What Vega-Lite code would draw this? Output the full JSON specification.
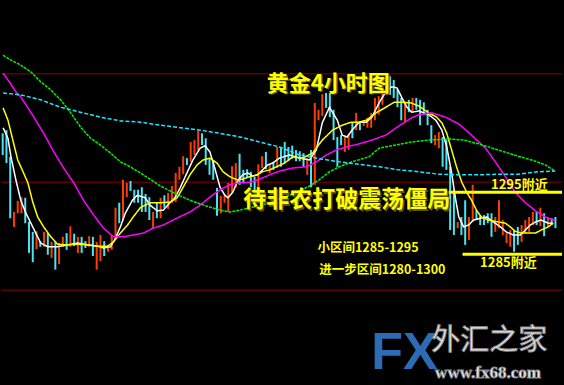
{
  "$schema": "https://vega.github.io/schema/vega-lite/v6.json",
  "width": 564,
  "height": 385,
  "autosize": {"type": "fit", "contains": "padding"},
  "padding": 0,
  "background": "#000000",
  "config": {"view": {"stroke": null}, "axis": {"disable": true}},
  "datasets": {
    "grid": [{"p": 1314.1}, {"p": 1296.6}, {"p": 1279.2}],
    "levels": [{"t0": 118.6, "t1": 148.75, "p": 1295}, {"t0": 122.3, "t1": 148.75, "p": 1285}],
    "candles": [
      {"t":0,"h":1304.5,"l":1301.0,"d":"down"},{"t":1,"h":1305.0,"l":1299.7,"d":"down"},{"t":2,"h":1300.7,"l":1290.8,"d":"down"},{"t":3,"h":1291.8,"l":1289.4,"d":"up"},{"t":4,"h":1293.6,"l":1291.6,"d":"up"},{"t":5,"h":1294.2,"l":1291.6,"d":"up"},{"t":6,"h":1294.1,"l":1290.0,"d":"down"},{"t":7,"h":1290.2,"l":1285.2,"d":"down"},{"t":8,"h":1288.6,"l":1283.7,"d":"down"},{"t":9,"h":1288.7,"l":1285.8,"d":"up"},
      {"t":10,"h":1287.1,"l":1286.2,"d":"down"},{"t":11,"h":1288.6,"l":1286.2,"d":"up"},{"t":12,"h":1288.4,"l":1284.9,"d":"down"},{"t":13,"h":1287.0,"l":1284.4,"d":"up"},{"t":14,"h":1287.0,"l":1282.5,"d":"down"},{"t":15,"h":1286.8,"l":1283.4,"d":"up"},{"t":16,"h":1287.8,"l":1286.2,"d":"up"},{"t":17,"h":1288.4,"l":1285.7,"d":"down"},{"t":18,"h":1289.5,"l":1286.2,"d":"up"},{"t":19,"h":1288.3,"l":1286.3,"d":"down"},
      {"t":20,"h":1287.8,"l":1285.2,"d":"up"},{"t":21,"h":1287.8,"l":1285.2,"d":"down"},{"t":22,"h":1287.1,"l":1286.0,"d":"down"},{"t":23,"h":1287.9,"l":1286.2,"d":"up"},{"t":24,"h":1287.8,"l":1284.7,"d":"down"},{"t":25,"h":1287.0,"l":1282.5,"d":"up"},{"t":26,"h":1288.1,"l":1283.9,"d":"up"},{"t":27,"h":1287.1,"l":1284.7,"d":"down"},{"t":28,"h":1286.5,"l":1285.4,"d":"up"},{"t":29,"h":1288.1,"l":1285.7,"d":"up"},
      {"t":30,"h":1292.5,"l":1287.6,"d":"up"},{"t":31,"h":1293.3,"l":1290.0,"d":"down"},{"t":32,"h":1297.0,"l":1290.4,"d":"up"},{"t":33,"h":1296.5,"l":1294.2,"d":"up"},{"t":34,"h":1296.8,"l":1295.2,"d":"down"},{"t":35,"h":1295.4,"l":1293.3,"d":"down"},{"t":36,"h":1295.4,"l":1293.3,"d":"down"},
      {"t":37,"h":1295.8,"l":1291.8,"d":"down"},{"t":38,"h":1294.7,"l":1291.8,"d":"down"},{"t":39,"h":1294.2,"l":1290.5,"d":"down"},{"t":40,"h":1291.8,"l":1289.2,"d":"up"},{"t":41,"h":1293.3,"l":1290.8,"d":"down"},{"t":42,"h":1294.1,"l":1290.8,"d":"up"},{"t":43,"h":1294.5,"l":1292.5,"d":"down"},{"t":44,"h":1294.9,"l":1292.3,"d":"up"},{"t":45,"h":1296.0,"l":1293.3,"d":"up"},{"t":46,"h":1298.1,"l":1293.4,"d":"up"},
      {"t":47,"h":1299.1,"l":1297.0,"d":"up"},{"t":48,"h":1300.8,"l":1297.9,"d":"up"},{"t":49,"h":1300.5,"l":1299.4,"d":"down"},{"t":50,"h":1303.1,"l":1299.9,"d":"up"},{"t":51,"h":1303.4,"l":1301.0,"d":"up"},{"t":52,"h":1304.9,"l":1301.8,"d":"up"},{"t":53,"h":1304.5,"l":1302.6,"d":"down"},{"t":54,"h":1303.7,"l":1299.4,"d":"down"},{"t":55,"h":1300.5,"l":1297.8,"d":"down"},{"t":56,"h":1300.2,"l":1297.0,"d":"down"},
      {"t":57,"h":1295.7,"l":1291.2,"d":"down"},{"t":58,"h":1294.4,"l":1291.6,"d":"up"},{"t":59,"h":1294.7,"l":1293.3,"d":"up"},{"t":60,"h":1296.5,"l":1291.8,"d":"up"},{"t":61,"h":1299.2,"l":1294.9,"d":"up"},{"t":62,"h":1299.7,"l":1295.8,"d":"up"},{"t":63,"h":1301.2,"l":1296.2,"d":"down"},{"t":64,"h":1298.6,"l":1296.6,"d":"down"},{"t":65,"h":1298.7,"l":1297.3,"d":"down"},{"t":66,"h":1298.3,"l":1295.8,"d":"down"},
      {"t":67,"h":1297.5,"l":1295.2,"d":"down"},{"t":68,"h":1299.5,"l":1295.4,"d":"up"},{"t":69,"h":1300.8,"l":1298.9,"d":"up"},{"t":70,"h":1301.5,"l":1298.7,"d":"down"},{"t":71,"h":1299.5,"l":1298.1,"d":"up"},{"t":72,"h":1299.9,"l":1298.6,"d":"down"},{"t":73,"h":1302.3,"l":1298.9,"d":"up"},
      {"t":74,"h":1302.3,"l":1299.1,"d":"down"},{"t":75,"h":1303.1,"l":1299.7,"d":"down"},{"t":76,"h":1302.3,"l":1300.0,"d":"down"},{"t":77,"h":1302.5,"l":1300.4,"d":"down"},{"t":78,"h":1301.8,"l":1300.0,"d":"down"},{"t":79,"h":1301.6,"l":1300.0,"d":"down"},{"t":80,"h":1301.3,"l":1299.1,"d":"down"},{"t":81,"h":1300.5,"l":1297.8,"d":"up"},{"t":82,"h":1301.8,"l":1295.8,"d":"down"},{"t":83,"h":1309.4,"l":1296.2,"d":"up"},
      {"t":84,"h":1308.3,"l":1306.6,"d":"up"},{"t":85,"h":1310.8,"l":1307.3,"d":"up"},{"t":86,"h":1311.0,"l":1308.6,"d":"down"},{"t":87,"h":1311.0,"l":1307.1,"d":"down"},{"t":88,"h":1308.3,"l":1303.4,"d":"down"},{"t":89,"h":1303.9,"l":1299.1,"d":"down"},{"t":90,"h":1304.2,"l":1302.6,"d":"down"},{"t":91,"h":1303.9,"l":1301.5,"d":"up"},{"t":92,"h":1304.2,"l":1301.8,"d":"up"},{"t":93,"h":1306.3,"l":1303.7,"d":"down"},
      {"t":94,"h":1307.8,"l":1305.0,"d":"up"},{"t":95,"h":1306.3,"l":1305.0,"d":"down"},{"t":96,"h":1306.6,"l":1305.7,"d":"up"},{"t":97,"h":1307.0,"l":1305.4,"d":"up"},{"t":98,"h":1307.8,"l":1305.4,"d":"up"},{"t":99,"h":1310.2,"l":1306.6,"d":"up"},{"t":100,"h":1310.5,"l":1307.5,"d":"up"},{"t":101,"h":1313.6,"l":1309.1,"d":"up"},{"t":102,"h":1314.2,"l":1310.7,"d":"up"},{"t":103,"h":1313.7,"l":1310.7,"d":"down"},
      {"t":104,"h":1313.1,"l":1310.2,"d":"down"},{"t":105,"h":1311.6,"l":1308.7,"d":"down"},{"t":106,"h":1310.2,"l":1306.6,"d":"down"},{"t":107,"h":1309.5,"l":1306.3,"d":"up"},{"t":108,"h":1309.9,"l":1307.9,"d":"down"},{"t":109,"h":1310.2,"l":1307.9,"d":"up"},{"t":110,"h":1310.2,"l":1308.3,"d":"down"},
      {"t":111,"h":1309.9,"l":1305.8,"d":"down"},{"t":112,"h":1309.5,"l":1307.5,"d":"down"},{"t":113,"h":1308.3,"l":1305.8,"d":"down"},{"t":114,"h":1305.8,"l":1302.9,"d":"down"},{"t":115,"h":1304.2,"l":1302.6,"d":"up"},{"t":116,"h":1304.7,"l":1302.1,"d":"up"},{"t":117,"h":1303.9,"l":1299.1,"d":"down"},{"t":118,"h":1303.4,"l":1298.6,"d":"down"},{"t":119,"h":1299.1,"l":1288.9,"d":"down"},{"t":120,"h":1295.4,"l":1288.1,"d":"down"},
      {"t":121,"h":1290.2,"l":1289.2,"d":"up"},{"t":122,"h":1291.0,"l":1288.1,"d":"down"},{"t":123,"h":1293.7,"l":1286.5,"d":"down"},{"t":124,"h":1291.0,"l":1287.3,"d":"up"},{"t":125,"h":1296.2,"l":1290.2,"d":"up"},{"t":126,"h":1292.1,"l":1290.5,"d":"down"},{"t":127,"h":1291.3,"l":1289.7,"d":"down"},{"t":128,"h":1291.3,"l":1289.7,"d":"down"},{"t":129,"h":1291.6,"l":1290.0,"d":"down"},{"t":130,"h":1291.6,"l":1287.8,"d":"down"},
      {"t":131,"h":1291.0,"l":1288.6,"d":"up"},{"t":132,"h":1293.7,"l":1289.2,"d":"up"},{"t":133,"h":1290.5,"l":1288.1,"d":"up"},{"t":134,"h":1288.4,"l":1286.8,"d":"up"},{"t":135,"h":1288.9,"l":1286.2,"d":"up"},{"t":136,"h":1288.9,"l":1285.4,"d":"down"},{"t":137,"h":1289.4,"l":1286.5,"d":"down"},{"t":138,"h":1289.7,"l":1287.0,"d":"up"},{"t":139,"h":1290.5,"l":1288.4,"d":"up"},{"t":140,"h":1291.0,"l":1288.6,"d":"up"},
      {"t":141,"h":1291.8,"l":1289.7,"d":"up"},{"t":142,"h":1291.8,"l":1289.7,"d":"down"},{"t":143,"h":1292.5,"l":1289.5,"d":"up"},{"t":144,"h":1291.6,"l":1287.9,"d":"down"},{"t":145,"h":1291.0,"l":1289.4,"d":"up"},{"t":146,"h":1290.8,"l":1289.7,"d":"down"},{"t":147,"h":1291.0,"l":1289.2,"d":"down"}
    ],
    "ma": [
      {"t":0.1,"m":"MA5","v":1305.4},{"t":1.4,"m":"MA5","v":1303.7},{"t":2.2,"m":"MA5","v":1300.7},{"t":3.5,"m":"MA5","v":1297.0},{"t":4.8,"m":"MA5","v":1293.7},{"t":6.2,"m":"MA5","v":1291.6},{"t":7.5,"m":"MA5","v":1290.0},{"t":8.8,"m":"MA5","v":1288.4},{"t":10.1,"m":"MA5","v":1286.8},{"t":12.0,"m":"MA5","v":1286.2},{"t":14.6,"m":"MA5","v":1286.2},{"t":17.3,"m":"MA5","v":1286.5},{"t":19.9,"m":"MA5","v":1286.8},{"t":22.6,"m":"MA5","v":1286.5},{"t":25.2,"m":"MA5","v":1286.3},{"t":26.8,"m":"MA5","v":1286.0},{"t":28.7,"m":"MA5","v":1286.2},{"t":30.0,"m":"MA5","v":1287.6},{"t":31.3,"m":"MA5","v":1289.4},{"t":32.6,"m":"MA5","v":1291.6},{"t":34.5,"m":"MA5","v":1293.7},{"t":35.8,"m":"MA5","v":1294.5},{"t":37.9,"m":"MA5","v":1294.1},{"t":39.2,"m":"MA5","v":1292.9},{"t":41.1,"m":"MA5","v":1292.0},{"t":42.7,"m":"MA5","v":1292.1},{"t":44.5,"m":"MA5","v":1293.3},{"t":45.9,"m":"MA5","v":1294.2},{"t":47.2,"m":"MA5","v":1295.7},{"t":49.0,"m":"MA5","v":1298.1},{"t":50.6,"m":"MA5","v":1300.2},{"t":52.5,"m":"MA5","v":1302.1},{"t":53.8,"m":"MA5","v":1302.5},{"t":55.1,"m":"MA5","v":1301.5},{"t":56.4,"m":"MA5","v":1298.9},{"t":57.8,"m":"MA5","v":1295.8},{"t":59.1,"m":"MA5","v":1294.5},{"t":59.9,"m":"MA5","v":1294.1},{"t":61.2,"m":"MA5","v":1295.0},{"t":62.5,"m":"MA5","v":1296.8},{"t":63.8,"m":"MA5","v":1297.8},{"t":65.2,"m":"MA5","v":1298.1},{"t":66.5,"m":"MA5","v":1297.6},{"t":67.8,"m":"MA5","v":1297.8},{"t":69.1,"m":"MA5","v":1298.6},{"t":70.5,"m":"MA5","v":1299.4},{"t":71.8,"m":"MA5","v":1299.7},{"t":73.6,"m":"MA5","v":1300.5},{"t":76.3,"m":"MA5","v":1301.0},{"t":78.9,"m":"MA5","v":1300.5},{"t":81.6,"m":"MA5","v":1300.2},{"t":83.4,"m":"MA5","v":1301.8},{"t":85.0,"m":"MA5","v":1306.2},{"t":86.9,"m":"MA5","v":1308.7},{"t":89.0,"m":"MA5","v":1306.6},{"t":90.3,"m":"MA5","v":1304.2},{"t":91.6,"m":"MA5","v":1303.9},{"t":92.9,"m":"MA5","v":1305.0},{"t":94.8,"m":"MA5","v":1306.3},{"t":96.7,"m":"MA5","v":1306.3},{"t":98.2,"m":"MA5","v":1307.1},{"t":100.1,"m":"MA5","v":1309.4},{"t":101.9,"m":"MA5","v":1311.2},{"t":103.5,"m":"MA5","v":1312.0},{"t":104.9,"m":"MA5","v":1311.8},{"t":106.2,"m":"MA5","v":1310.2},{"t":107.5,"m":"MA5","v":1308.7},{"t":108.8,"m":"MA5","v":1307.9},{"t":110.7,"m":"MA5","v":1308.1},{"t":113.3,"m":"MA5","v":1307.5},{"t":115.2,"m":"MA5","v":1306.6},{"t":116.8,"m":"MA5","v":1305.0},{"t":118.1,"m":"MA5","v":1302.3},{"t":119.4,"m":"MA5","v":1298.1},{"t":120.5,"m":"MA5","v":1293.7},{"t":121.3,"m":"MA5","v":1291.0},{"t":122.6,"m":"MA5","v":1289.4},{"t":123.9,"m":"MA5","v":1289.7},{"t":125.2,"m":"MA5","v":1290.5},{"t":127.1,"m":"MA5","v":1290.8},{"t":128.7,"m":"MA5","v":1291.0},{"t":130.5,"m":"MA5","v":1290.2},{"t":132.4,"m":"MA5","v":1289.4},{"t":133.9,"m":"MA5","v":1288.6},{"t":135.8,"m":"MA5","v":1288.1},{"t":137.7,"m":"MA5","v":1288.1},{"t":139.0,"m":"MA5","v":1288.9},{"t":140.3,"m":"MA5","v":1289.7},{"t":141.7,"m":"MA5","v":1290.2},{"t":143.2,"m":"MA5","v":1290.5},{"t":145.1,"m":"MA5","v":1290.0},{"t":146.4,"m":"MA5","v":1290.0},
      {"t":0.1,"m":"MA10","v":1308.6},{"t":1.4,"m":"MA10","v":1306.6},{"t":2.7,"m":"MA10","v":1303.4},{"t":4.0,"m":"MA10","v":1300.2},{"t":5.4,"m":"MA10","v":1298.3},{"t":6.7,"m":"MA10","v":1296.5},{"t":8.0,"m":"MA10","v":1293.4},{"t":9.3,"m":"MA10","v":1291.0},{"t":10.9,"m":"MA10","v":1289.4},{"t":12.8,"m":"MA10","v":1287.8},{"t":14.6,"m":"MA10","v":1286.6},{"t":17.3,"m":"MA10","v":1286.5},{"t":19.9,"m":"MA10","v":1286.6},{"t":22.6,"m":"MA10","v":1286.5},{"t":25.2,"m":"MA10","v":1286.3},{"t":27.9,"m":"MA10","v":1286.3},{"t":29.5,"m":"MA10","v":1287.0},{"t":31.3,"m":"MA10","v":1288.4},{"t":33.2,"m":"MA10","v":1289.7},{"t":34.7,"m":"MA10","v":1291.0},{"t":36.6,"m":"MA10","v":1292.5},{"t":39.2,"m":"MA10","v":1293.3},{"t":41.9,"m":"MA10","v":1293.3},{"t":44.5,"m":"MA10","v":1293.4},{"t":46.4,"m":"MA10","v":1294.1},{"t":48.0,"m":"MA10","v":1295.8},{"t":49.8,"m":"MA10","v":1297.8},{"t":51.7,"m":"MA10","v":1299.4},{"t":53.3,"m":"MA10","v":1300.2},{"t":55.1,"m":"MA10","v":1300.5},{"t":57.0,"m":"MA10","v":1299.7},{"t":58.6,"m":"MA10","v":1298.3},{"t":60.4,"m":"MA10","v":1297.5},{"t":62.3,"m":"MA10","v":1297.0},{"t":63.8,"m":"MA10","v":1297.1},{"t":65.7,"m":"MA10","v":1297.5},{"t":67.6,"m":"MA10","v":1297.8},{"t":69.1,"m":"MA10","v":1298.3},{"t":71.0,"m":"MA10","v":1298.6},{"t":72.8,"m":"MA10","v":1299.1},{"t":75.0,"m":"MA10","v":1299.7},{"t":77.1,"m":"MA10","v":1300.7},{"t":79.7,"m":"MA10","v":1300.5},{"t":82.4,"m":"MA10","v":1301.3},{"t":85.0,"m":"MA10","v":1303.4},{"t":87.7,"m":"MA10","v":1305.0},{"t":90.3,"m":"MA10","v":1305.8},{"t":92.7,"m":"MA10","v":1306.3},{"t":94.8,"m":"MA10","v":1306.3},{"t":96.7,"m":"MA10","v":1306.6},{"t":99.3,"m":"MA10","v":1307.8},{"t":101.9,"m":"MA10","v":1308.7},{"t":104.1,"m":"MA10","v":1309.5},{"t":106.2,"m":"MA10","v":1309.5},{"t":108.6,"m":"MA10","v":1309.4},{"t":110.7,"m":"MA10","v":1308.9},{"t":113.3,"m":"MA10","v":1307.8},{"t":115.4,"m":"MA10","v":1307.1},{"t":116.8,"m":"MA10","v":1306.2},{"t":118.1,"m":"MA10","v":1304.5},{"t":119.4,"m":"MA10","v":1301.8},{"t":120.7,"m":"MA10","v":1299.1},{"t":122.1,"m":"MA10","v":1296.6},{"t":123.4,"m":"MA10","v":1295.0},{"t":124.7,"m":"MA10","v":1293.7},{"t":126.0,"m":"MA10","v":1292.1},{"t":127.3,"m":"MA10","v":1291.0},{"t":129.2,"m":"MA10","v":1290.5},{"t":131.8,"m":"MA10","v":1290.2},{"t":133.7,"m":"MA10","v":1290.0},{"t":135.0,"m":"MA10","v":1289.4},{"t":136.3,"m":"MA10","v":1288.7},{"t":137.9,"m":"MA10","v":1288.4},{"t":139.8,"m":"MA10","v":1288.4},{"t":141.7,"m":"MA10","v":1288.4},{"t":143.2,"m":"MA10","v":1288.9},{"t":145.1,"m":"MA10","v":1289.4},{"t":146.4,"m":"MA10","v":1290.0},
      {"t":0.1,"m":"MA30","v":1314.2},{"t":1.4,"m":"MA30","v":1313.1},{"t":3.5,"m":"MA30","v":1311.2},{"t":4.8,"m":"MA30","v":1310.4},{"t":8.3,"m":"MA30","v":1307.1},{"t":10.9,"m":"MA30","v":1304.5},{"t":13.6,"m":"MA30","v":1301.5},{"t":16.2,"m":"MA30","v":1298.9},{"t":18.9,"m":"MA30","v":1296.5},{"t":21.5,"m":"MA30","v":1293.7},{"t":24.2,"m":"MA30","v":1291.3},{"t":26.8,"m":"MA30","v":1289.2},{"t":29.5,"m":"MA30","v":1287.8},{"t":32.1,"m":"MA30","v":1287.8},{"t":34.7,"m":"MA30","v":1288.1},{"t":37.4,"m":"MA30","v":1288.4},{"t":40.0,"m":"MA30","v":1289.2},{"t":42.7,"m":"MA30","v":1289.7},{"t":45.3,"m":"MA30","v":1290.5},{"t":48.0,"m":"MA30","v":1291.3},{"t":49.8,"m":"MA30","v":1291.8},{"t":52.5,"m":"MA30","v":1292.9},{"t":55.1,"m":"MA30","v":1294.2},{"t":57.8,"m":"MA30","v":1295.4},{"t":60.4,"m":"MA30","v":1296.2},{"t":63.1,"m":"MA30","v":1296.5},{"t":65.7,"m":"MA30","v":1296.6},{"t":68.3,"m":"MA30","v":1297.1},{"t":71.0,"m":"MA30","v":1297.8},{"t":73.6,"m":"MA30","v":1298.4},{"t":77.1,"m":"MA30","v":1298.9},{"t":80.8,"m":"MA30","v":1299.1},{"t":83.4,"m":"MA30","v":1299.9},{"t":86.1,"m":"MA30","v":1301.0},{"t":88.7,"m":"MA30","v":1301.8},{"t":91.4,"m":"MA30","v":1302.3},{"t":94.8,"m":"MA30","v":1302.8},{"t":98.2,"m":"MA30","v":1303.4},{"t":101.9,"m":"MA30","v":1304.2},{"t":105.4,"m":"MA30","v":1305.7},{"t":108.8,"m":"MA30","v":1307.0},{"t":110.7,"m":"MA30","v":1307.5},{"t":114.1,"m":"MA30","v":1307.8},{"t":117.8,"m":"MA30","v":1307.1},{"t":121.3,"m":"MA30","v":1306.0},{"t":124.7,"m":"MA30","v":1304.2},{"t":128.4,"m":"MA30","v":1302.1},{"t":131.0,"m":"MA30","v":1299.9},{"t":133.7,"m":"MA30","v":1297.5},{"t":136.3,"m":"MA30","v":1295.0},{"t":139.0,"m":"MA30","v":1293.3},{"t":141.7,"m":"MA30","v":1292.0},{"t":144.3,"m":"MA30","v":1291.0},{"t":146.9,"m":"MA30","v":1290.4},
      {"t":0.1,"m":"MA60","v":1317.1},{"t":2.2,"m":"MA60","v":1316.3},{"t":4.8,"m":"MA60","v":1315.5},{"t":7.5,"m":"MA60","v":1314.4},{"t":10.1,"m":"MA60","v":1312.8},{"t":12.8,"m":"MA60","v":1311.5},{"t":15.4,"m":"MA60","v":1309.9},{"t":18.1,"m":"MA60","v":1307.8},{"t":20.7,"m":"MA60","v":1305.5},{"t":23.4,"m":"MA60","v":1303.7},{"t":26.0,"m":"MA60","v":1302.6},{"t":28.7,"m":"MA60","v":1301.3},{"t":31.3,"m":"MA60","v":1299.9},{"t":33.9,"m":"MA60","v":1299.1},{"t":36.6,"m":"MA60","v":1298.1},{"t":39.2,"m":"MA60","v":1297.1},{"t":41.9,"m":"MA60","v":1296.0},{"t":44.5,"m":"MA60","v":1295.2},{"t":47.2,"m":"MA60","v":1294.4},{"t":49.8,"m":"MA60","v":1293.7},{"t":52.5,"m":"MA60","v":1293.1},{"t":55.1,"m":"MA60","v":1292.6},{"t":57.8,"m":"MA60","v":1292.1},{"t":60.4,"m":"MA60","v":1291.8},{"t":63.1,"m":"MA60","v":1292.1},{"t":65.7,"m":"MA60","v":1292.5},{"t":68.3,"m":"MA60","v":1292.8},{"t":71.0,"m":"MA60","v":1293.3},{"t":73.6,"m":"MA60","v":1293.9},{"t":76.3,"m":"MA60","v":1294.5},{"t":78.9,"m":"MA60","v":1295.2},{"t":81.6,"m":"MA60","v":1296.0},{"t":84.2,"m":"MA60","v":1297.0},{"t":86.9,"m":"MA60","v":1298.3},{"t":89.5,"m":"MA60","v":1299.1},{"t":92.9,"m":"MA60","v":1299.9},{"t":97.4,"m":"MA60","v":1300.7},{"t":100.1,"m":"MA60","v":1302.1},{"t":103.5,"m":"MA60","v":1302.5},{"t":108.8,"m":"MA60","v":1303.1},{"t":113.3,"m":"MA60","v":1303.4},{"t":118.6,"m":"MA60","v":1303.6},{"t":122.6,"m":"MA60","v":1303.4},{"t":126.6,"m":"MA60","v":1302.8},{"t":131.8,"m":"MA60","v":1301.8},{"t":137.1,"m":"MA60","v":1300.8},{"t":141.7,"m":"MA60","v":1300.0},{"t":144.3,"m":"MA60","v":1299.4},{"t":146.9,"m":"MA60","v":1298.4},
      {"t":0.1,"m":"MA120","v":1311.0},{"t":4.8,"m":"MA120","v":1310.7},{"t":10.1,"m":"MA120","v":1309.9},{"t":15.4,"m":"MA120","v":1308.7},{"t":20.7,"m":"MA120","v":1307.9},{"t":26.0,"m":"MA120","v":1307.1},{"t":31.3,"m":"MA120","v":1306.5},{"t":36.6,"m":"MA120","v":1306.3},{"t":41.9,"m":"MA120","v":1305.8},{"t":47.2,"m":"MA120","v":1305.4},{"t":52.5,"m":"MA120","v":1305.0},{"t":57.8,"m":"MA120","v":1304.5},{"t":63.1,"m":"MA120","v":1303.9},{"t":68.3,"m":"MA120","v":1303.1},{"t":73.6,"m":"MA120","v":1302.3},{"t":78.9,"m":"MA120","v":1301.0},{"t":84.2,"m":"MA120","v":1300.4},{"t":89.5,"m":"MA120","v":1299.9},{"t":94.8,"m":"MA120","v":1299.5},{"t":100.1,"m":"MA120","v":1299.1},{"t":105.4,"m":"MA120","v":1298.6},{"t":110.7,"m":"MA120","v":1298.3},{"t":116.0,"m":"MA120","v":1297.9},{"t":121.3,"m":"MA120","v":1297.8},{"t":126.6,"m":"MA120","v":1297.8},{"t":131.8,"m":"MA120","v":1297.9},{"t":137.1,"m":"MA120","v":1297.9},{"t":142.4,"m":"MA120","v":1298.3},{"t":146.9,"m":"MA120","v":1298.4}
    ],
    "labels": [
      {"k":"title","s":"黄金4小时图","t":86.6,"p":1312.5},
      {"k":"sub","s":"待非农打破震荡僵局","t":91.5,"p":1293.7},
      {"k":"note","s":"小区间1285-1295","t":83.7,"p":1286.0},
      {"k":"note","s":"进一步区间1280-1300","t":84.2,"p":1282.5},
      {"k":"lvl","s":"1295附近","t":137.4,"p":1296.2},
      {"k":"lvl","s":"1285附近","t":134.5,"p":1283.6},
      {"k":"fx","s":"FX","t":98.0,"p":1269.0},
      {"k":"cn","s":"外汇之家","t":114.0,"p":1271.0},
      {"k":"url","s":"www.fx68.com","t":115.0,"p":1265.9}
    ]
  },
  "layer": [
    {
      "data": {"name": "grid"},
      "mark": {"type": "rule", "color": "#5e0000", "strokeWidth": 1.5},
      "encoding": {
        "y": {"field": "p", "type": "quantitative", "scale": {"domain": [1263.9, 1326], "zero": false, "nice": false}, "axis": null}
      }
    },
    {
      "data": {"name": "candles"},
      "mark": {"type": "rule", "strokeWidth": 2},
      "encoding": {
        "x": {"field": "t", "type": "quantitative", "scale": {"domain": [-0.45, 148.75], "nice": false, "zero": false}, "axis": null},
        "y": {"field": "h", "type": "quantitative", "axis": null},
        "y2": {"field": "l"},
        "color": {"field": "d", "type": "nominal", "scale": {"domain": ["up", "down"], "range": ["#ff3c00", "#48e4f4"]}, "legend": null}
      }
    },
    {
      "data": {"name": "ma"},
      "mark": {"type": "line", "strokeWidth": 1.5, "interpolate": "linear"},
      "encoding": {
        "x": {"field": "t", "type": "quantitative"},
        "y": {"field": "v", "type": "quantitative"},
        "detail": {"field": "m", "type": "nominal"},
        "stroke": {"field": "m", "type": "nominal", "scale": {"domain": ["MA5", "MA10", "MA30", "MA60", "MA120"], "range": ["#ffffff", "#ffff00", "#ff00ff", "#00f000", "#1fe6ff"]}, "legend": null},
        "strokeDash": {"field": "m", "type": "nominal", "scale": {"domain": ["MA5", "MA10", "MA30", "MA60", "MA120"], "range": [[1, 0], [1, 0], [1, 0], [3, 1], [4, 2]]}, "legend": null}
      }
    },
    {
      "data": {"name": "levels"},
      "mark": {"type": "rule", "color": "#ffff00", "strokeWidth": 3},
      "encoding": {
        "x": {"field": "t0", "type": "quantitative"},
        "x2": {"field": "t1"},
        "y": {"field": "p", "type": "quantitative"}
      }
    },
    {
      "data": {"name": "labels"},
      "transform": [{"filter": "datum.k === 'title'"}],
      "mark": {"type": "text", "font": "Noto Sans CJK SC", "fontWeight": "bold", "fontSize": 22, "align": "center", "baseline": "middle", "color": "#5a5200", "dx": 1.5, "dy": 1.5},
      "encoding": {"x": {"field": "t", "type": "quantitative"}, "y": {"field": "p", "type": "quantitative"}, "text": {"field": "s"}}
    },
    {
      "data": {"name": "labels"},
      "transform": [{"filter": "datum.k === 'title'"}],
      "mark": {"type": "text", "font": "Noto Sans CJK SC", "fontWeight": "bold", "fontSize": 22, "align": "center", "baseline": "middle", "color": "#ffff00"},
      "encoding": {"x": {"field": "t", "type": "quantitative"}, "y": {"field": "p", "type": "quantitative"}, "text": {"field": "s"}}
    },
    {
      "data": {"name": "labels"},
      "transform": [{"filter": "datum.k === 'sub'"}],
      "mark": {"type": "text", "font": "Noto Sans CJK SC", "fontWeight": "bold", "fontSize": 23, "align": "center", "baseline": "middle", "color": "#5a5200", "dx": 1.5, "dy": 1.5},
      "encoding": {"x": {"field": "t", "type": "quantitative"}, "y": {"field": "p", "type": "quantitative"}, "text": {"field": "s"}}
    },
    {
      "data": {"name": "labels"},
      "transform": [{"filter": "datum.k === 'sub'"}],
      "mark": {"type": "text", "font": "Noto Sans CJK SC", "fontWeight": "bold", "fontSize": 23, "align": "center", "baseline": "middle", "color": "#ffff00"},
      "encoding": {"x": {"field": "t", "type": "quantitative"}, "y": {"field": "p", "type": "quantitative"}, "text": {"field": "s"}}
    },
    {
      "data": {"name": "labels"},
      "transform": [{"filter": "datum.k === 'note'"}],
      "mark": {"type": "text", "font": "Noto Sans CJK SC", "fontWeight": "bold", "fontSize": 12.5, "align": "left", "baseline": "middle", "color": "#ffff00"},
      "encoding": {"x": {"field": "t", "type": "quantitative"}, "y": {"field": "p", "type": "quantitative"}, "text": {"field": "s"}}
    },
    {
      "data": {"name": "labels"},
      "transform": [{"filter": "datum.k === 'lvl'"}],
      "mark": {"type": "text", "font": "Noto Sans CJK SC", "fontWeight": "bold", "fontSize": 13, "align": "center", "baseline": "middle", "color": "#ffff00"},
      "encoding": {"x": {"field": "t", "type": "quantitative"}, "y": {"field": "p", "type": "quantitative"}, "text": {"field": "s"}}
    },
    {
      "data": {"name": "labels"},
      "transform": [{"filter": "datum.k === 'fx'"}],
      "mark": {"type": "text", "font": "Liberation Sans", "fontWeight": "bold", "fontSize": 52, "align": "left", "baseline": "middle", "color": "#2c6cb6"},
      "encoding": {"x": {"field": "t", "type": "quantitative"}, "y": {"field": "p", "type": "quantitative"}, "text": {"field": "s"}}
    },
    {
      "data": {"name": "labels"},
      "transform": [{"filter": "datum.k === 'cn'"}],
      "mark": {"type": "text", "font": "Noto Sans CJK SC", "fontWeight": "normal", "fontSize": 29, "align": "left", "baseline": "middle", "color": "#f2f2f2", "stroke": "#8a8a8a", "strokeWidth": 1},
      "encoding": {"x": {"field": "t", "type": "quantitative"}, "y": {"field": "p", "type": "quantitative"}, "text": {"field": "s"}}
    },
    {
      "data": {"name": "labels"},
      "transform": [{"filter": "datum.k === 'url'"}],
      "mark": {"type": "text", "font": "Liberation Serif", "fontWeight": "bold", "fontSize": 17, "align": "left", "baseline": "middle", "color": "#f2f2f2", "stroke": "#8a8a8a", "strokeWidth": 0.8},
      "encoding": {"x": {"field": "t", "type": "quantitative"}, "y": {"field": "p", "type": "quantitative"}, "text": {"field": "s"}}
    }
  ]
}
